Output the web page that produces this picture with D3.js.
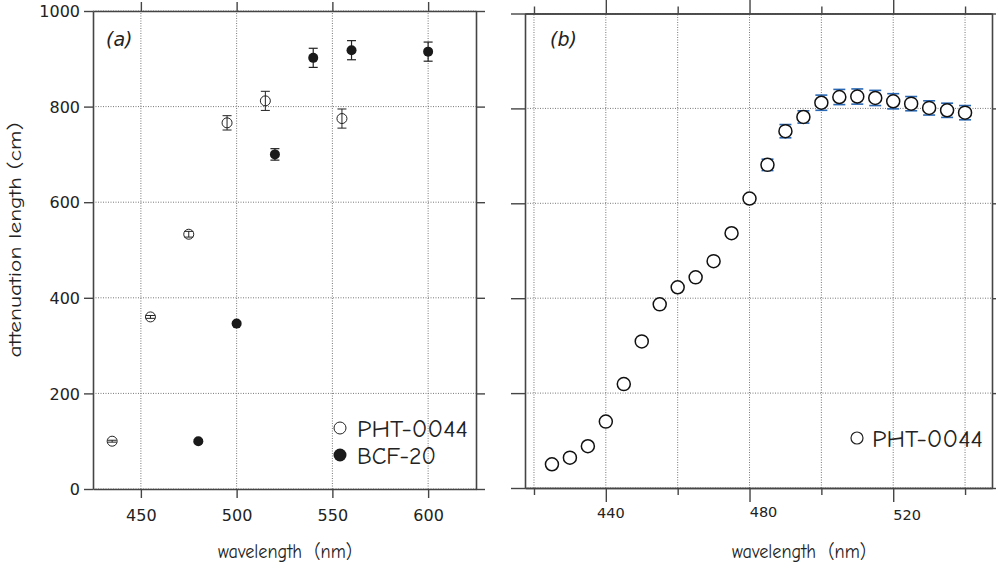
<!DOCTYPE html>
<html>
<head>
<meta charset="utf-8">
<script src="https://cdn.jsdelivr.net/npm/d3@7"></script>
<style>
  body { margin: 0; background: #fff; }
  svg { display: block; }
  .tick text { font-family: "DejaVu Sans", Verdana, sans-serif; fill: #222; }
  .hand { font-family: "Comic Sans MS", "Comic Neue", "DejaVu Sans", sans-serif; fill: #222; }
</style>
</head>
<body>
<svg id="chart" width="996" height="565"></svg>
<script>
// ---- panel (a): two fibre types ----
const phtWavelengthA = [435, 455, 475, 495, 515, 555];
const phtLengthA     = [100, 360, 533, 766, 812, 775];
const phtErrorA      = [2, 3, 6, 15, 20, 20];

const bcfWavelength  = [480, 500, 520, 540, 560, 600];
const bcfLength      = [100, 346, 700, 902, 918, 915];
const bcfError       = [3, 3, 12, 20, 20, 20];

// ---- panel (b): PHT-0044, fine scan ----
const phtWavelengthB = [425, 430, 435, 440, 445, 450, 455, 460, 465, 470, 475, 480,
                        485, 490, 495, 500, 505, 510, 515, 520, 525, 530, 535, 540];
const phtLengthB     = [50, 64, 88, 140, 219, 309, 387, 423, 444, 478, 537, 610,
                        681, 752, 782, 812, 824, 825, 822, 815, 810, 801, 796, 791];
const phtErrorB      = [2, 2, 2, 2, 3, 3, 3, 3, 3, 3, 3, 3,
                        12, 14, 13, 16, 16, 16, 16, 16, 15, 15, 15, 15];

// ---- ticks ----
const yTicks   = [0, 200, 400, 600, 800, 1000];
const xTicksA  = [450, 500, 550, 600];
const xMajorB  = [440, 480, 520];
const xMinorB  = [420, 460, 500, 540];

const svg = d3.select("#chart");
const axisColor = "#454545";

function frame(g, x, y) {
  const [x0, x1] = x.range();
  const [y0, y1] = y.range();
  // dotted grid
  g.append("g").selectAll("line").data(y.ticksList).join("line")
    .attr("x1", x0).attr("x2", x1)
    .attr("y1", d => y(d)).attr("y2", d => y(d))
    .attr("stroke", "#777").attr("stroke-width", 1).attr("stroke-dasharray", "1,1.5");
  g.append("g").selectAll("line").data(x.gridList).join("line")
    .attr("x1", d => x(d)).attr("x2", d => x(d))
    .attr("y1", y0).attr("y2", y1)
    .attr("stroke", "#777").attr("stroke-width", 1).attr("stroke-dasharray", "1,1.5");
}

function styleAxis(sel) {
  sel.selectAll("path.domain").attr("stroke", axisColor).attr("stroke-width", 1.6);
  sel.selectAll(".tick line").attr("stroke", axisColor).attr("stroke-width", 1.4);
}

// ================= panel (a) =================
const xa = d3.scaleLinear().domain([425, 625]).range([93, 476]);
const ya = d3.scaleLinear().domain([0, 1000]).range([489, 11]);
ya.ticksList = yTicks;
xa.gridList = xTicksA;

const ga = svg.append("g");
frame(ga, xa, ya);

ga.append("g").attr("transform", `translate(${xa.range()[0]},0)`)
  .call(d3.axisLeft(ya).tickValues(yTicks).tickFormat(d3.format("d"))
        .tickSize(9).tickSizeOuter(0).tickPadding(4))
  .call(styleAxis)
  .call(s => s.selectAll(".tick text").attr("font-size", 16).attr("dy", "0.35em"));
ga.append("g").attr("transform", `translate(${xa.range()[1]},0)`)
  .call(d3.axisRight(ya).tickValues(yTicks).tickSize(9).tickSizeOuter(0).tickFormat(""))
  .call(styleAxis);
ga.append("g").attr("transform", `translate(0,${ya.range()[0]})`)
  .call(d3.axisBottom(xa).tickValues(xTicksA).tickFormat(d3.format("d"))
        .tickSize(9).tickSizeOuter(0).tickPadding(12))
  .call(styleAxis)
  .call(s => s.selectAll(".tick text").attr("font-size", 16));
ga.append("g").attr("transform", `translate(0,${ya.range()[1]})`)
  .call(d3.axisTop(xa).tickValues(xTicksA).tickSize(9).tickSizeOuter(0).tickFormat(""))
  .call(styleAxis);

function errorBars(g, x, y, xs, vs, es, color, half, width) {
  const data = xs.map((d, i) => ({ x: d, v: vs[i], e: es[i] }));
  const eg = g.append("g").attr("stroke", color).attr("stroke-width", width).attr("fill", "none");
  eg.selectAll("line.v").data(data).join("line").attr("class", "v")
    .attr("x1", d => x(d.x)).attr("x2", d => x(d.x))
    .attr("y1", d => y(d.v - d.e)).attr("y2", d => y(d.v + d.e));
  eg.selectAll("line.t").data(data).join("line").attr("class", "t")
    .attr("x1", d => x(d.x) - half).attr("x2", d => x(d.x) + half)
    .attr("y1", d => y(d.v + d.e)).attr("y2", d => y(d.v + d.e));
  eg.selectAll("line.b").data(data).join("line").attr("class", "b")
    .attr("x1", d => x(d.x) - half).attr("x2", d => x(d.x) + half)
    .attr("y1", d => y(d.v - d.e)).attr("y2", d => y(d.v - d.e));
}

// PHT-0044: open circles, bars visible through them
ga.append("g").selectAll("circle").data(phtWavelengthA).join("circle")
  .attr("cx", d => xa(d)).attr("cy", (d, i) => ya(phtLengthA[i])).attr("r", 5)
  .attr("fill", "none").attr("stroke", "#222").attr("stroke-width", 1);
errorBars(ga, xa, ya, phtWavelengthA, phtLengthA, phtErrorA, "#222", 4.5, 1);

// BCF-20: filled circles
errorBars(ga, xa, ya, bcfWavelength, bcfLength, bcfError, "#222", 4.5, 1.2);
ga.append("g").selectAll("circle").data(bcfWavelength).join("circle")
  .attr("cx", d => xa(d)).attr("cy", (d, i) => ya(bcfLength[i])).attr("r", 5)
  .attr("fill", "#1a1a1a");

ga.append("text").attr("x", 106).attr("y", 46)
  .attr("font-family", "'DejaVu Sans', Verdana, sans-serif").attr("font-style", "italic")
  .attr("font-size", 19).attr("fill", "#222").text("(a)");

// legend (a)
ga.append("circle").attr("cx", 340).attr("cy", 428).attr("r", 6)
  .attr("fill", "none").attr("stroke", "#222").attr("stroke-width", 1);
ga.append("circle").attr("cx", 340).attr("cy", 455).attr("r", 6.5).attr("fill", "#1a1a1a");
ga.append("text").attr("class", "hand").attr("x", 357).attr("y", 437)
  .attr("font-size", 24).attr("textLength", 111).attr("lengthAdjust", "spacingAndGlyphs")
  .text("PHT-0044");
ga.append("text").attr("class", "hand").attr("x", 357).attr("y", 464)
  .attr("font-size", 24).attr("textLength", 79).attr("lengthAdjust", "spacingAndGlyphs")
  .text("BCF-20");

ga.append("text").attr("class", "hand").attr("x", 285).attr("y", 558)
  .attr("text-anchor", "middle").attr("font-size", 20)
  .attr("textLength", 134).attr("lengthAdjust", "spacingAndGlyphs")
  .text("wavelength\u00a0 (nm)");
ga.append("text").attr("class", "hand")
  .attr("transform", "translate(21,240) rotate(-90)")
  .attr("text-anchor", "middle").attr("font-size", 18)
  .attr("textLength", 235).attr("lengthAdjust", "spacingAndGlyphs")
  .text("attenuation length (cm)");

// ================= panel (b) =================
const xb = d3.scaleLinear().domain([417.5, 547.5]).range([525, 992]);
const yb = d3.scaleLinear().domain([0, 1000]).range([488, 13.5]);
yb.ticksList = yTicks;
xb.gridList = xMinorB.concat(xMajorB).sort((a, b) => a - b);

const gb = svg.append("g");
frame(gb, xb, yb);

gb.append("g").attr("transform", `translate(${xb.range()[0]},0)`)
  .call(d3.axisLeft(yb).tickValues(yTicks).tickSize(14).tickSizeOuter(0).tickFormat(""))
  .call(styleAxis);
gb.append("g").attr("transform", `translate(${xb.range()[1]},0)`)
  .call(d3.axisRight(yb).tickValues(yTicks).tickSize(9).tickSizeOuter(0).tickFormat(""))
  .call(styleAxis);
for (const [vals, len] of [[xMajorB, 14], [xMinorB, 7]]) {
  gb.append("g").attr("transform", `translate(0,${yb.range()[0]})`)
    .call(d3.axisBottom(xb).tickValues(vals).tickSize(len).tickSizeOuter(0).tickFormat(""))
    .call(styleAxis);
  gb.append("g").attr("transform", `translate(0,${yb.range()[1]})`)
    .call(d3.axisTop(xb).tickValues(vals).tickSize(len).tickSizeOuter(0).tickFormat(""))
    .call(styleAxis);
}
// major tick labels
const labelShift = [5, 14, 14];
gb.append("g").selectAll("text").data(xMajorB).join("text")
  .attr("x", (d, i) => xb(d) + labelShift[i]).attr("y", (d, i) => [513, 512, 515][i])
  .attr("dy", "0.35em").attr("text-anchor", "middle")
  .attr("font-family", "'DejaVu Sans', Verdana, sans-serif").attr("font-size", 14.5)
  .attr("fill", "#222").text(d => d);

errorBars(gb, xb, yb, phtWavelengthB, phtLengthB, phtErrorB, "#2a68b5", 6, 1.6);
gb.append("g").selectAll("circle").data(phtWavelengthB).join("circle")
  .attr("cx", d => xb(d)).attr("cy", (d, i) => yb(phtLengthB[i])).attr("r", 6.5)
  .attr("fill", "#fff").attr("stroke", "#111").attr("stroke-width", 1.5);

gb.append("text").attr("x", 550).attr("y", 46)
  .attr("font-family", "'DejaVu Sans', Verdana, sans-serif").attr("font-style", "italic")
  .attr("font-size", 19).attr("fill", "#222").text("(b)");

// legend (b)
gb.append("circle").attr("cx", 857).attr("cy", 438).attr("r", 6)
  .attr("fill", "none").attr("stroke", "#222").attr("stroke-width", 1.2);
gb.append("text").attr("class", "hand").attr("x", 872).attr("y", 447)
  .attr("font-size", 24).attr("textLength", 111).attr("lengthAdjust", "spacingAndGlyphs")
  .text("PHT-0044");

gb.append("text").attr("class", "hand").attr("x", 799).attr("y", 558)
  .attr("text-anchor", "middle").attr("font-size", 20)
  .attr("textLength", 134).attr("lengthAdjust", "spacingAndGlyphs")
  .text("wavelength\u00a0 (nm)");
</script>
</body>
</html>
